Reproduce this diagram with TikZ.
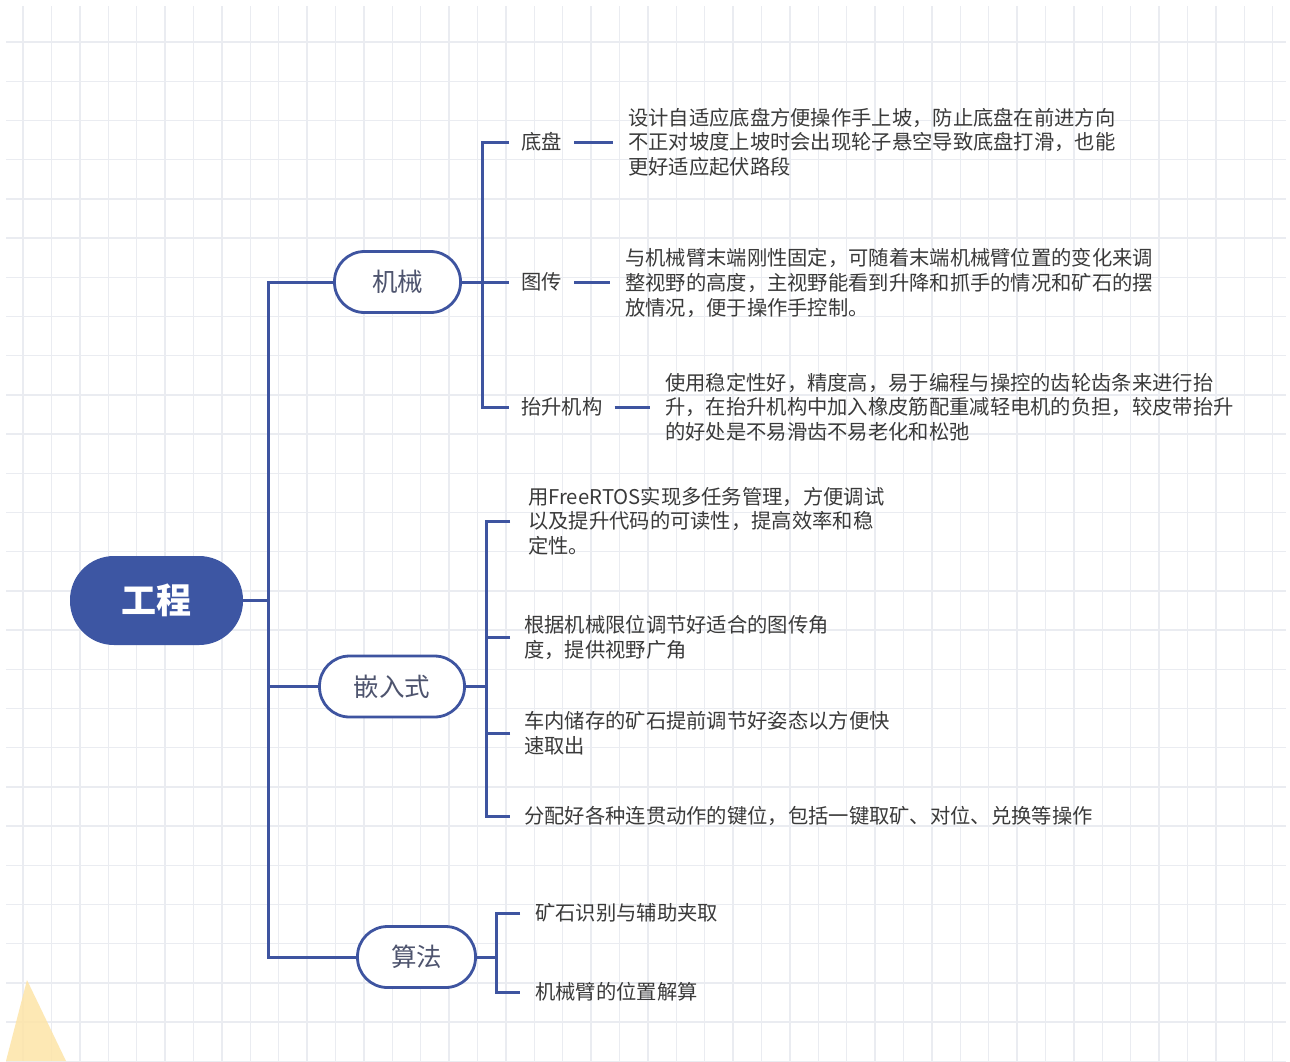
\documentclass[tikz,border=0pt]{standalone}
\usepackage{fontspec}
\setmainfont{Noto Sans CJK SC}
\definecolor{lineblue}{RGB}{62,84,160}
\definecolor{rootblue}{RGB}{61,86,163}
\definecolor{topictext}{RGB}{78,84,110}
\definecolor{desctext}{RGB}{58,58,58}
\definecolor{gridc}{RGB}{234,236,241}
\definecolor{yellowc}{RGB}{253,228,168}
\tikzset{
 conn/.style={draw=lineblue, line width=3pt},
 rootbox/.style={fill=rootblue, rounded corners=44pt, minimum width=173pt, minimum height=89pt, text=white, font=\fontsize{35}{40}\selectfont\bfseries, inner sep=0pt},
 topicbox/.style={draw=lineblue, line width=2.8pt, fill=white, rounded corners=30pt, minimum height=61pt, text=topictext, font=\fontsize{25.5}{30}\selectfont, inner sep=0pt},
 sublabel/.style={anchor=west, inner xsep=12pt, inner ysep=2pt, text=desctext, font=\fontsize{20.3}{24.5}\selectfont},
 desc/.style={anchor=west, align=left, inner xsep=15pt, inner ysep=0pt, text=desctext, font=\fontsize{20.3}{24.7}\selectfont},
 gridline/.style={draw=gridc, line width=1.4pt},
}
\begin{document}
\begin{tikzpicture}[x=1pt,y=-1pt]
\useasboundingbox (0,0) rectangle (1290,1061);
\fill[white] (0,0) rectangle (1290,1061);
% grid
\foreach \i in {0,...,44} {\draw[gridline] ({23+28.4*\i},6) -- ({23+28.4*\i},1061);}
\foreach \j in {0,...,26} {\draw[gridline] (6,{42+39.2*\j}) -- (1286,{42+39.2*\j});}
% yellow corner
\fill[yellowc, opacity=0.85] (6,1061) -- (27,980) -- (66,1061) -- cycle;

% main topics
\node[rootbox] (root) at (156.5,600.5) {工程};
\node[topicbox, minimum width=126pt] (jx) at (397.5,282) {机械};
\node[topicbox, minimum width=145pt] (qr) at (392,686.5) {嵌入式};
\node[topicbox, minimum width=118pt] (sf) at (416.5,957) {算法};

\coordinate (tr) at (268,600.5);
\coordinate (t1) at (268,282);
\coordinate (t2) at (268,686.5);
\coordinate (t3) at (268,957);
\draw[conn] (root.east) -- (tr);
\draw[conn] (jx.west) -- (t1) -- (t3) -- (sf.west);
\draw[conn] (t2) -- (qr.west);

% 机械 subtree
\coordinate (ja) at (482,142);
\coordinate (jb) at (482,407);
\node[sublabel] (dp) at (509,142) {底盘};
\node[sublabel] (tc) at (509,282) {图传};
\node[sublabel] (ts) at (509,407) {抬升机构};
\draw[conn] (dp.west) -- (ja) -- (jb) -- (ts.west);
\draw[conn] (jx.east) -- (tc.west);
\node[desc] (dpd) at (613,142) {设计自适应底盘方便操作手上坡，防止底盘在前进方向\\不正对坡度上坡时会出现轮子悬空导致底盘打滑，也能\\更好适应起伏路段};
\node[desc] (tcd) at (610,283) {与机械臂末端刚性固定，可随着末端机械臂位置的变化来调\\整视野的高度，主视野能看到升降和抓手的情况和矿石的摆\\放情况，便于操作手控制。};
\node[desc] (tsd) at (650,407) {使用稳定性好，精度高，易于编程与操控的齿轮齿条来进行抬\\升，在抬升机构中加入橡皮筋配重减轻电机的负担，较皮带抬升\\的好处是不易滑齿不易老化和松弛};
\draw[conn] (dp.east) -- (dpd.west);
\draw[conn] (tc.east) -- (tc.east -| tcd.west);
\draw[conn] (ts.east) -- (tsd.west);

% 嵌入式 subtree
\coordinate (qa) at (486,521);
\coordinate (qm) at (486,686.5);
\coordinate (qb) at (486,816);
\node[desc, inner xsep=18pt] (q1) at (510,521) {用FreeRTOS实现多任务管理，方便调试\\以及提升代码的可读性，提高效率和稳\\定性。};
\node[desc, inner xsep=14pt] (q2) at (510,637.5) {根据机械限位调节好适合的图传角\\度，提供视野广角};
\node[desc, inner xsep=14pt] (q3) at (510,733.5) {车内储存的矿石提前调节好姿态以方便快\\速取出};
\node[desc, inner xsep=14pt] (q4) at (510,816) {分配好各种连贯动作的键位，包括一键取矿、对位、兑换等操作};
\draw[conn] (q1.west) -- (qa) -- (qb) -- (q4.west);
\draw[conn] (qr.east) -- (qm);
\draw[conn] (q2.west) -- (q2.west -| qa);
\draw[conn] (q3.west) -- (q3.west -| qa);

% 算法 subtree
\coordinate (sa) at (496,913);
\coordinate (sm) at (496,957);
\coordinate (sb) at (496,992);
\node[desc] (s1) at (520,913) {矿石识别与辅助夹取};
\node[desc] (s2) at (520,992) {机械臂的位置解算};
\draw[conn] (s1.west) -- (sa) -- (sb) -- (s2.west);
\draw[conn] (sf.east) -- (sm);
\end{tikzpicture}
\end{document}
